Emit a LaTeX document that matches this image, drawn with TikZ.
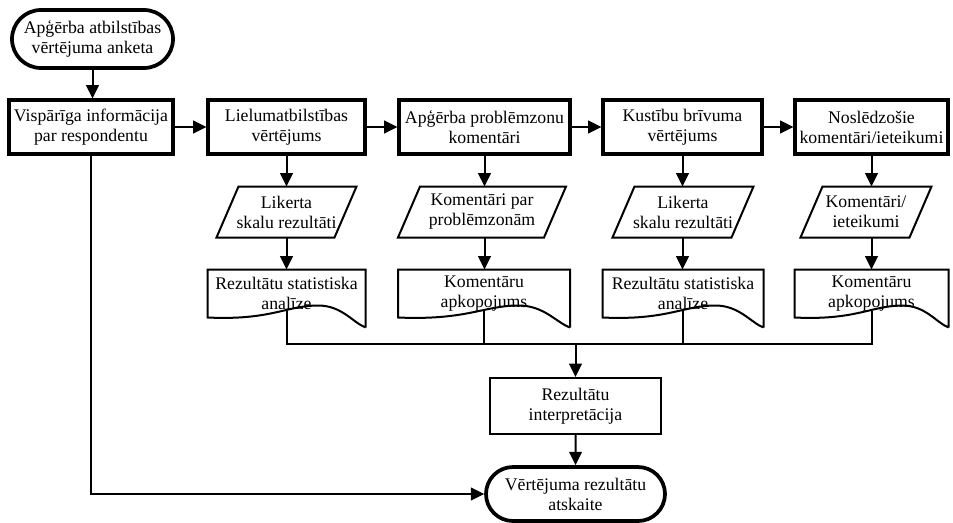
\documentclass[tikz,border=0pt]{standalone}
\usepackage{fontspec}
\setmainfont{Liberation Serif}
\usetikzlibrary{arrows.meta,calc,shapes.misc}

\tikzset{every picture/.style={line width=0.75pt}}
\tikzset{
  termnode/.style={rounded rectangle, draw, line width=2.8pt, align=center, inner sep=0pt},
  procnode/.style={rectangle, draw, line width=2.3pt, align=center, inner sep=0pt, minimum height=40.5pt},
  thinnode/.style={rectangle, draw, line width=1.5pt, align=center, inner sep=0pt},
  datanode/.style={rectangle, align=center, inner sep=0pt, minimum height=37.5pt},
  docnode/.style={rectangle, align=center, inner sep=0pt, minimum height=35.25pt},
  lin/.style={line width=1.5pt},
  arr/.style={line width=1.5pt, -{Triangle[length=10pt,width=9.5pt]}},
}
% parallelogram outline round a datanode
\newcommand{\dataout}[1]{%
  \draw[lin] (#1.south west) -- ($(#1.north west)+(22,0)$) -- (#1.north east) -- ($(#1.south east)+(-22,0)$) -- cycle;}
% document outline round a docnode
\newcommand{\docout}[1]{%
  \draw[lin] ($(#1.south east)+(0,10)$) -- (#1.north east) -- (#1.north west) -- (#1.south west)
    .. controls ($(#1.south west)!0.4!(#1.south east)+(0,3)$) and ($(#1.south west)!0.5!(#1.south east)+(0,-12)$) .. ($(#1.south west)!0.7!(#1.south east)+(0,-12)$)
    .. controls ($(#1.south west)!0.85!(#1.south east)+(0,-12)$) and ($(#1.south west)!0.92!(#1.south east)+(0,5)$) .. ($(#1.south east)+(0,10)$);}

\begin{document}
\begin{tikzpicture}[x=0.75pt,y=0.75pt,yscale=-1,xscale=1,font=\fontsize{13.3pt}{15pt}\selectfont]
            \useasboundingbox (0,0) rectangle (953,522);

            %Shape: Terminal
            \node[termnode, minimum width=120.75pt, minimum height=43.5pt] (anketa) at (92.5,39) {Apģērba atbilstības\\vērtējuma anketa};

            %Shape: Rectangle
            \node[procnode, minimum width=123pt] (visp) at (91,127) {Vispārīga informācija\\par respondentu};
            \node[procnode, minimum width=117.75pt] (liel) at (286.5,127) {Lielumatbilstības\\vērtējums};
            \node[procnode, minimum width=128.25pt] (probl) at (484.5,127) {Apģērba problēmzonu\\komentāri};
            \node[procnode, minimum width=119.25pt] (kust) at (682.5,127) {Kustību brīvuma\\vērtējums};
            \node[procnode, minimum width=114.75pt] (nosl) at (871.5,127) {Noslēdzošie\\komentāri/ieteikumi};

            %Shape: Parallelogram
            \node[datanode, minimum width=104.25pt] (lik1) at (286.5,212) {Likerta\\skalu rezultāti};
            \node[datanode, minimum width=125.25pt] (kom1) at (482,212) {Komentāri par\\problēmzonām};
            \node[datanode, minimum width=105pt] (lik2) at (683,212) {Likerta\\skalu rezultāti};
            \node[datanode, minimum width=97.5pt] (kom2) at (866,212) {Komentāri/\\ieteikumi};
            \dataout{lik1}
            \dataout{kom1}
            \dataout{lik2}
            \dataout{kom2}

            %Shape: Document
            \node[docnode, minimum width=117.75pt] (stat1) at (286.5,293.5) {Rezultātu statistiska\\analīze};
            \node[docnode, minimum width=128.25pt] (apk1) at (484,293.5) {Komentāru\\apkopojums};
            \node[docnode, minimum width=120pt] (stat2) at (683,293.5) {Rezultātu statistiska\\analīze};
            \node[docnode, minimum width=114.75pt] (apk2) at (871.5,293.5) {Komentāru\\apkopojums};
            \docout{stat1}
            \docout{apk1}
            \docout{stat2}
            \docout{apk2}

            %Shape: Rectangle
            \node[thinnode, minimum width=128.25pt, minimum height=42pt] (interp) at (575.5,406) {Rezultātu\\interpretācija};

            %Shape: Terminal
            \node[termnode, minimum width=134.25pt, minimum height=40.5pt] (atsk) at (575.5,494) {Vērtējuma rezultātu\\atskaite};

            %Straight Lines
            \draw[arr] (anketa.south) -- (anketa.south |- visp.north);
            \draw[arr] (visp) -- (liel);
            \draw[arr] (liel) -- (probl);
            \draw[arr] (probl) -- (kust);
            \draw[arr] (kust) -- (nosl);
            \draw[arr] (liel.south) -- (liel.south |- lik1.north);
            \draw[arr] (probl.south) -- (probl.south |- kom1.north);
            \draw[arr] (kust.south) -- (kust.south |- lik2.north);
            \draw[arr] (nosl.south) -- (nosl.south |- kom2.north);
            \draw[arr] (liel.south |- lik1.south) -- (liel.south |- stat1.north);
            \draw[arr] (probl.south |- kom1.south) -- (probl.south |- apk1.north);
            \draw[arr] (kust.south |- lik2.south) -- (kust.south |- stat2.north);
            \draw[arr] (nosl.south |- kom2.south) -- (nosl.south |- apk2.north);

            %Straight Lines
            \coordinate (bus) at (575.5,344);
            \draw[lin] ($(stat1.south)+(0,-7)$) -- (stat1.south |- bus) -- (apk2.south |- bus) -- ($(apk2.south)+(0,-7)$);
            \draw[lin] ($(apk1.south)+(0,-7)$) -- (apk1.south |- bus);
            \draw[lin] ($(stat2.south)+(0,-7)$) -- (stat2.south |- bus);
            \draw[arr] (bus) -- (interp);
            \draw[arr] (interp) -- (atsk);
            \draw[arr] (visp.south) |- (atsk);

\end{tikzpicture}
\end{document}
